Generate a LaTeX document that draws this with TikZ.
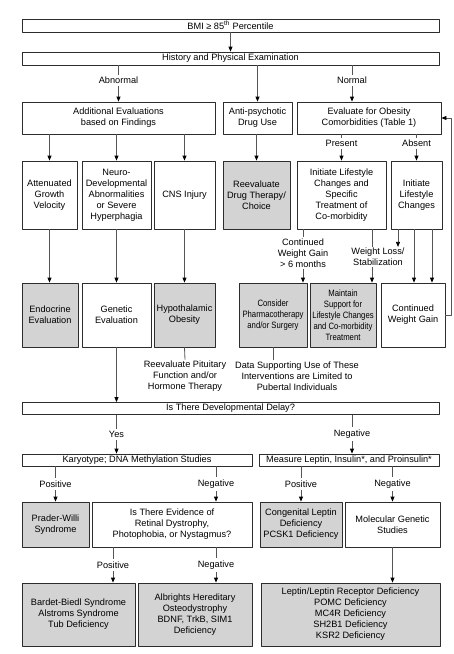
\documentclass[tikz,border=0pt]{standalone}
\usepackage{fontspec}
\setmainfont{Liberation Sans}
\newfontfamily\narrowfont[FakeStretch=0.84]{Liberation Sans}
\usetikzlibrary{arrows.meta}
\definecolor{boxgray}{RGB}{211,211,211}
\definecolor{boxline}{RGB}{45,45,45}
\definecolor{linkgray}{RGB}{85,85,85}
\newcommand{\chartfont}{\fontsize{9.2}{11}\selectfont}

\begin{document}
\begin{tikzpicture}[x=1pt,y=-1pt,line join=round,
  box/.style={draw=boxline,line width=0.8pt,fill=white,align=center,inner sep=1pt,font=\chartfont},
  shaded/.style={box,fill=boxgray},
  tight/.style={font={\narrowfont\chartfont}},
  note/.style={align=center,inner sep=1pt,font=\chartfont},
  lab/.style={fill=white,inner sep=2.5pt,font=\chartfont},
  link/.style={draw=linkgray,line width=0.8pt},
  arr/.style={link,-{Triangle[length=5pt,width=4pt,black]}}]
\useasboundingbox (0,0) rectangle (454,654);
\node[box,minimum width=417pt,minimum height=13pt] (bmi) at (230.5,25.5) {BMI ≥ 85\textsuperscript{th} Percentile};
\node[box,minimum width=417pt,minimum height=13pt] (hist) at (230.5,58.5) {History and Physical Examination};
\node[box,minimum width=193pt,minimum height=32pt] (addl) at (118.5,118) {Additional Evaluations\\based on Findings};
\node[box,minimum width=69pt,minimum height=32pt] (anti) at (257.5,118) {Anti-psychotic\\Drug Use};
\node[box,minimum width=144pt,minimum height=32pt] (evalc) at (369,118) {Evaluate for Obesity\\Comorbidities (Table 1)};
\node[box,minimum width=55pt,minimum height=68pt] (atten) at (49.5,195) {Attenuated\\Growth\\Velocity};
\node[box,minimum width=69pt,minimum height=68pt] (neuro) at (116.5,195) {Neuro-\\Developmental\\Abnormalities\\or Severe\\Hyperphagia};
\node[box,minimum width=61pt,minimum height=68pt] (cns) at (184.5,195) {CNS Injury};
\node[shaded,minimum width=67pt,minimum height=68pt] (reeval) at (256.5,195) {Reevaluate\\Drug Therapy/\\Choice};
\node[box,minimum width=89pt,minimum height=68pt] (initspec) at (341.5,195) {Initiate Lifestyle\\Changes and\\Specific\\Treatment of\\Co-morbidity};
\node[box,minimum width=51pt,minimum height=68pt] (initlife) at (416.5,195) {Initiate\\Lifestyle\\Changes};
\node[shaded,minimum width=56pt,minimum height=64pt] (endo) at (50,315) {Endocrine\\Evaluation};
\node[box,minimum width=69pt,minimum height=64pt] (genetic) at (116.5,315) {Genetic\\Evaluation};
\node[shaded,minimum width=61pt,minimum height=64pt] (hypo) at (184.5,315) {Hypothalamic\\Obesity};
\node[shaded,tight,minimum width=68pt,minimum height=64pt] (consider) at (273,315) {Consider\\Pharmacotherapy\\and/or Surgery};
\node[shaded,tight,minimum width=66pt,minimum height=64pt] (maintain) at (343,315) {Maintain\\Support for\\Lifestyle Changes\\and Co-morbidity\\Treatment};
\node[box,minimum width=64pt,minimum height=64pt] (cwg) at (413,315) {Continued\\Weight Gain};
\node[note] (pitnote) at (185,376) {Reevaluate Pituitary\\Function and/or\\Hormone Therapy};
\node[note] (datanote) at (297,376) {Data Supporting Use of These\\Interventions are Limited to\\Pubertal Individuals};
\node[note] (cwlab) at (303,253) {Continued\\Weight Gain\\> 6 months};
\node[note] (wllab) at (378,257) {Weight Loss/\\Stabilization};
\node[box,minimum width=417pt,minimum height=12pt] (delay) at (230.5,408.5) {Is There Developmental Delay?};
\node[box,minimum width=230pt,minimum height=12pt] (karyo) at (137,460) {Karyotype; DNA Methylation Studies};
\node[box,minimum width=180pt,minimum height=12pt] (measure) at (349,460) {Measure Leptin, Insulin*, and Proinsulin*};
\node[shaded,minimum width=67pt,minimum height=45pt] (prader) at (55.5,524.5) {Prader-Willi\\Syndrome};
\node[box,minimum width=160pt,minimum height=45pt] (retinal) at (172,524.5) {Is There Evidence of\\Retinal Dystrophy,\\Photophobia, or Nystagmus?};
\node[shaded,minimum width=82pt,minimum height=45pt] (congen) at (301,524.5) {Congenital Leptin\\Deficiency\\PCSK1 Deficiency};
\node[box,minimum width=95pt,minimum height=45pt] (molec) at (392.5,524.5) {Molecular Genetic\\Studies};
\node[shaded,minimum width=113pt,minimum height=63pt] (bardet) at (78.5,614.5) {Bardet-Biedl Syndrome\\Alstroms Syndrome\\Tub Deficiency};
\node[shaded,minimum width=114pt,minimum height=63pt] (albright) at (195,614.5) {Albrights Hereditary\\Osteodystrophy\\BDNF, TrkB, SIM1\\Deficiency};
\node[shaded,minimum width=179pt,minimum height=63pt] (leptin) at (350.5,614.5) {Leptin/Leptin Receptor Deficiency\\POMC Deficiency\\MC4R Deficiency\\SH2B1 Deficiency\\KSR2 Deficiency};
\coordinate (xnorm) at (352,0);
\coordinate (xwl) at (372,0);
\coordinate (xab) at (398,0);
\coordinate (xcga) at (414,0);
\coordinate (xcgb) at (432,0);
\coordinate (xneg) at (216,0);
\coordinate (xpos) at (113,0);
\draw[arr] (bmi) -- (hist);
\draw[arr] (hist.south -| addl.north) -- node[lab,pos=0.42] (abn) {Abnormal} (addl.north);
\draw[arr] (hist.south -| anti.north) -- (anti.north);
\draw[arr] (hist.south -| xnorm) -- node[lab,pos=0.42] (norm) {Normal} (evalc.north -| xnorm);
\draw[arr] (addl.south -| atten.north) -- (atten.north);
\draw[arr] (addl.south -| neuro.north) -- (neuro.north);
\draw[arr] (addl.south -| cns.north) -- (cns.north);
\draw[arr] (anti.south -| reeval.north) -- (reeval.north);
\draw[arr] (evalc.south -| initspec.north) -- node[lab,pos=0.35] (pres) {Present} (initspec.north);
\draw[arr] (evalc.south -| initlife.north) -- node[lab,pos=0.35] (abs) {Absent} (initlife.north);
\draw[arr] (atten.south) -- (atten.south |- endo.north);
\draw[arr] (neuro.south) -- (genetic.north);
\draw[arr] (cns.south) -- (hypo.north);
\draw[link] (hypo.south) -- (pitnote.north);
\draw[link] (initspec.south -| cwlab.north) -- (cwlab.north);
\draw[arr] (cwlab.south) -- (cwlab.south |- consider.north);
\draw[link] (initspec.south -| xwl) -- (wllab.north -| xwl);
\draw[arr] (wllab.south -| xwl) -- (maintain.north -| xwl);
\draw[arr] (initlife.south -| xab) -- (wllab.north -| xab);
\draw[arr] (initlife.south -| xcga) -- (cwg.north -| xcga);
\draw[arr] (initlife.south -| xcgb) -- (cwg.north -| xcgb);
\draw[arr] (cwg.east) -- ++(6,0) |- (evalc.east);
\draw[link] (consider.south) -- (consider.south |- datanote.north);
\draw[arr] (genetic.south) -- (genetic.south |- delay.north);
\draw[arr] (delay.south -| genetic.south) -- node[lab] (yes) {Yes} (karyo.north -| genetic.south);
\draw[arr] (delay.south -| xnorm) -- node[lab] (negdd) {Negative} (measure.north -| xnorm);
\draw[arr] (karyo.south -| prader.north) -- node[lab] (poskt) {Positive} (prader.north);
\draw[arr] (karyo.south -| xneg) -- node[lab] (negkt) {Negative} (retinal.north -| xneg);
\draw[arr] (measure.south -| congen.north) -- node[lab] (posms) {Positive} (congen.north);
\draw[arr] (measure.south -| molec.north) -- node[lab] (negms) {Negative} (molec.north);
\draw[arr] (retinal.south -| xpos) -- node[lab] (posrt) {Positive} (bardet.north -| xpos);
\draw[arr] (retinal.south -| xneg) -- node[lab] (negrt) {Negative} (albright.north -| xneg);
\draw[arr] (molec.south) -- (molec.south |- leptin.north);
\end{tikzpicture}
\end{document}
